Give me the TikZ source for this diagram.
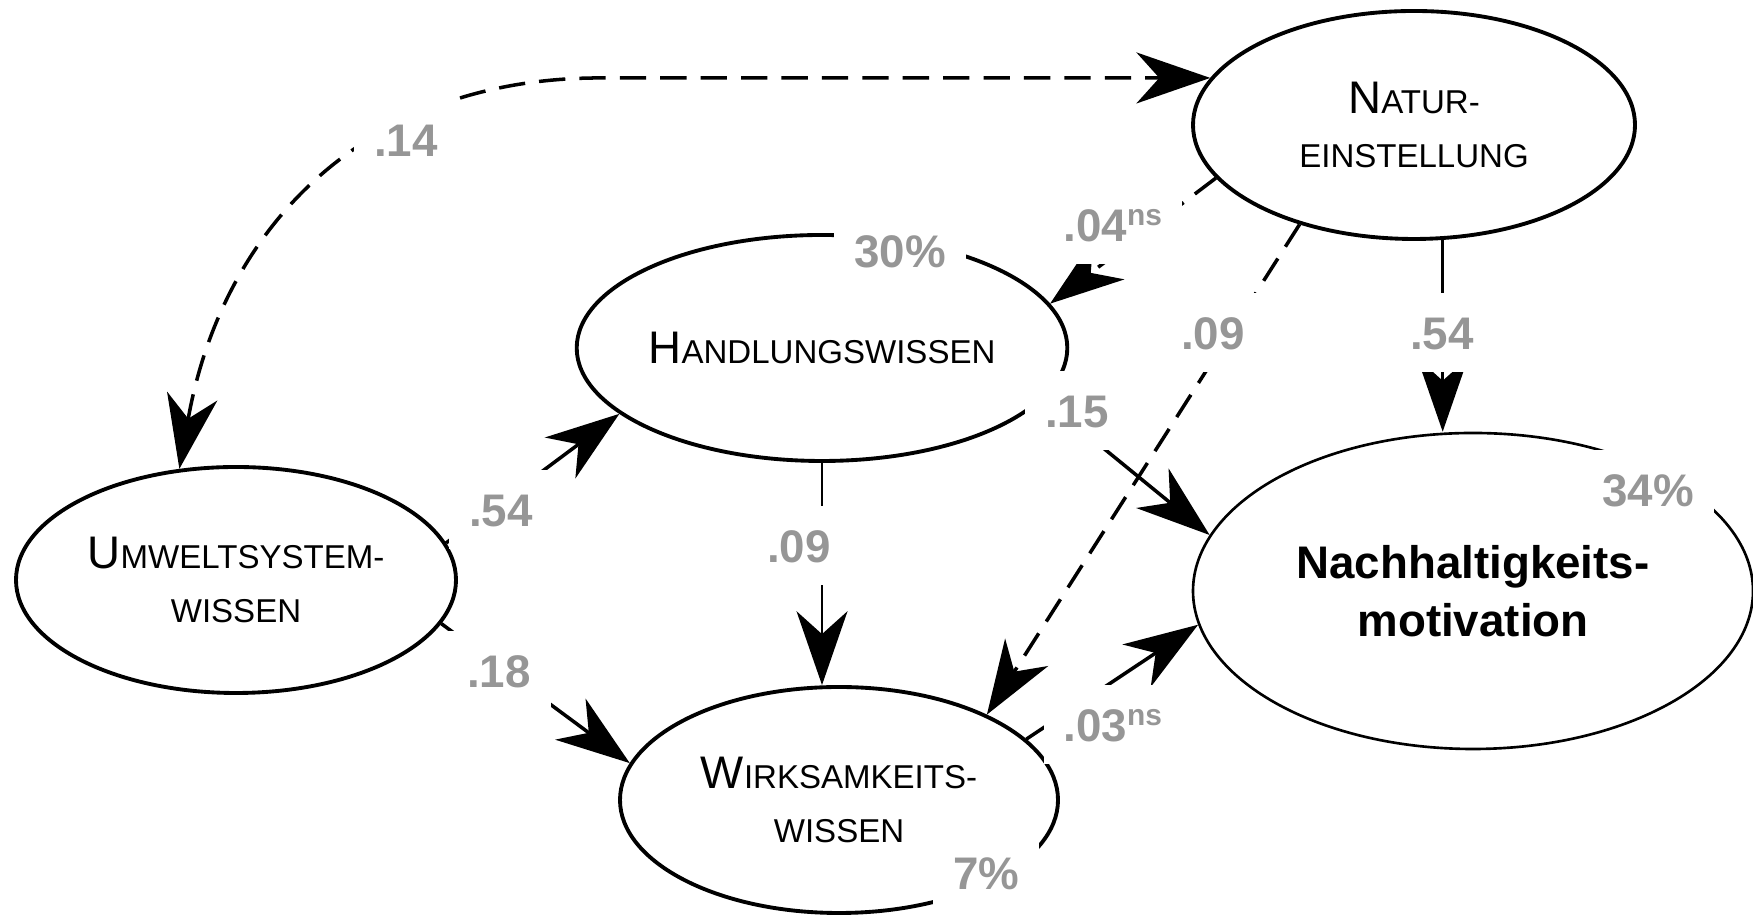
\documentclass[tikz,border=0pt]{standalone}
\usepackage{fontspec}
\setmainfont{Liberation Sans}
\usetikzlibrary{arrows.meta, shapes.geometric, positioning}
\definecolor{labgray}{RGB}{150,150,150}
\newcommand{\smc}[2]{{\fontsize{13pt}{15.6pt}\selectfont #1}\MakeUppercase{#2}}
\newcommand{\nsup}{\raisebox{4.7pt}{\fontsize{8.5pt}{8.5pt}\selectfont\bfseries ns}}
\newcommand{\effect}[3]
{
	\draw[#1] (#2) -- (#3)
}

\begin{document}
\begin{tikzpicture}[>={Stealth[length=21pt,width=14.5pt,inset=6.5pt]},
			lat/.style={shape=ellipse,
				draw=black,
				line width=1.1pt,
				inner sep=0pt,
				align=center,
				minimum width=4.38cm,
				minimum height=2.26cm,
				font=\fontsize{9.4pt}{15.6pt}\selectfont},
			arr/.style={->, line width=1pt},
			arrthin/.style={arr, line width=0.7pt},
			dsh/.style={arr, dash pattern=on 7.5pt off 4pt},
			lab/.style={fill=white, text=labgray, anchor=base,
				inner xsep=0.2cm, inner ysep=0.08cm,
				text height=14pt, text depth=4pt,
				font=\fontsize{13pt}{13pt}\selectfont\bfseries}]

	\useasboundingbox (0, 0) rectangle (17.53, 9.16);

	\node[lat, minimum width=4.42cm, minimum height=2.28cm] at (14.14, 7.91) (natur){\smc{N}{atur-}\\\smc{}{einstellung}};
	\node[lat] at (8.22, 5.68) (handl){\smc{H}{andlungswissen}};
	\node[lat, minimum width=4.40cm] at (2.36, 3.36) (umwelt){\smc{U}{mweltsystem-}\\\smc{}{wissen}};
	\node[lat] at (8.39, 1.16) (wirk){\smc{W}{irksamkeits-}\\\smc{}{wissen}};
	\node[lat, line width=0.75pt, minimum width=5.6cm, minimum height=3.16cm,
		font=\fontsize{13pt}{16.5pt}\selectfont\bfseries] at (14.73, 3.25) (nach){Nachhaltigkeits-\\motivation};

	\effect{arr}{umwelt.10}{handl.198};
	\effect{arr}{umwelt.-12}{wirk.170};
	\effect{arrthin}{handl.south}{handl.south |- wirk.north};
	\effect{arr}{handl.-13}{nach.168};
	\effect{arr}{wirk.18}{nach.187};
	\effect{arrthin}{natur.-76}{natur.-76 |- nach.north};
	\effect{dsh}{natur.195}{handl.11};
	\effect{dsh}{natur.221}{wirk.30};
	\path (natur.167) ++(-6.1, 0) coordinate (bend);
	\draw[dsh, <->] (umwelt.117) .. controls +(80:2.4) and +(-2.4, 0) .. (bend) -- (natur.167);

	\node[lab] at (4.06, 7.59) (l14){.14};
	\node[lab, anchor=base west] at (10.43, 6.74) (l04){.04\nsup};
	\node[lab] at (9.00, 6.48) (r30){30\%};
	\node[lab] at (12.13, 5.66) (l09a){.09};
	\node[lab] at (14.42, 5.66) (l54a){.54};
	\node[lab] at (10.77, 4.88) (l15){.15};
	\node[lab] at (5.01, 3.89) (l54b){.54};
	\node[lab] at (7.99, 3.53) (l09b){.09};
	\node[lab] at (4.99, 2.28) (l18){.18};
	\node[lab, anchor=base west] at (10.43, 1.74) (l03){.03\nsup};
	\node[lab] at (16.48, 4.09) (r34){34\%};
	\node[lab] at (9.86, 0.26) (r07){7\%};
\end{tikzpicture}
\end{document}
